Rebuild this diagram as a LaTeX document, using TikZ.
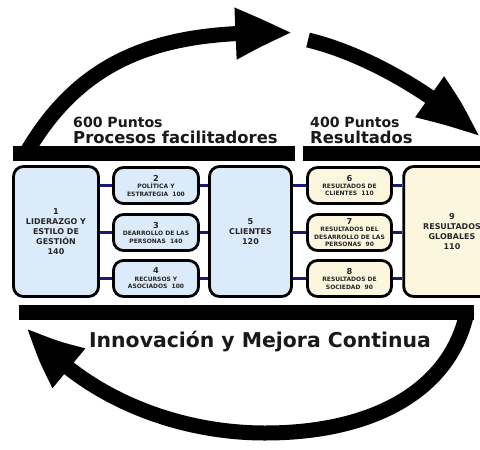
\documentclass[tikz,border=0pt]{standalone}
\usepackage{fontspec}
\setmainfont{DejaVu Sans}
\usetikzlibrary{arrows.meta,bending}
\definecolor{azulclaro}{RGB}{220,235,249}
\definecolor{cremaclaro}{RGB}{252,246,223}
\definecolor{enlaceazul}{RGB}{25,25,120}
\tikzset{
	criterio/.style={draw=black, line width=2.4pt, rounded corners=0.3cm, align=center, inner sep=0pt, text=black!85},
	facil/.style={criterio, fill=azulclaro},
	result/.style={criterio, fill=cremaclaro},
	grande/.style={minimum width=2.55cm, minimum height=3.9cm, font=\bfseries\fontsize{6.8}{8.5}\selectfont},
	chica/.style={minimum height=1.08cm, font=\bfseries\fontsize{5.1}{6.4}\selectfont},
	titulo/.style={inner sep=0pt, anchor=base west, text=black!90},
	enlace/.style={draw=enlaceazul, line width=2.5pt},
	flecha/.style={line width=0.45cm, -{Triangle[length=1.77cm, width=1.4cm, bend]}},
	barra/.style={fill=black},
}
\newcommand{\num}[1]{{\fontsize{7}{7}\selectfont #1}}
\begin{document}
\begin{tikzpicture}[x=0.03cm, y=-0.03cm]
	\useasboundingbox (0,0) rectangle (480,449);
	\fill[barra] (13,146) rectangle (295,161);
	\fill[barra] (303,146) rectangle (482,161);
	\fill[barra] (19,305) rectangle (474,320);
	\coordinate (ini1) at (24,157);
	\coordinate (fin1) at (293,33);
	\coordinate (ini2) at (308,40);
	\coordinate (fin2) at (479,137);
	\coordinate (ini3) at (467,312);
	\coordinate (med3) at (265,433);
	\coordinate (fin3) at (27,327);
	\draw[flecha] (ini1) .. controls (85,48) and (175,30) .. (fin1);
	\draw[flecha] (ini2) .. controls (370,55) and (440,98) .. (fin2);
	\draw[flecha] (ini3) .. controls (451,389) and (375,433) .. (med3) .. controls (175,433) and (82,396) .. (fin3);
	\node[titulo, font=\bfseries\fontsize{12}{13}\selectfont] (p600) at (73,127.5) {600 Puntos};
	\node[titulo, font=\bfseries\fontsize{14}{15}\selectfont] (proc) at (73,143) {Procesos facilitadores};
	\node[titulo, font=\bfseries\fontsize{12}{13}\selectfont] (p400) at (310,127.5) {400 Puntos};
	\node[titulo, font=\bfseries\fontsize{14}{15}\selectfont] (resul) at (310,143) {Resultados};
	\node[titulo, anchor=base, font=\bfseries\fontsize{17.4}{19}\selectfont] (innov) at (260,347.5) {Innovación y Mejora Continua};
	\node[facil, grande] (c1) at (56,231.5) {\num{1}\\LIDERAZGO Y\\ESTILO DE\\GESTIÓN\\140};
	\node[facil, chica, minimum width=2.55cm] (c2) at (156,185.5) {\num{2}\\POLÍTICA Y\\ESTRATEGIA\ \ 100};
	\node[facil, chica, minimum width=2.55cm] (c3) at (156,232.5) {\num{3}\\DEARROLLO DE LAS\\PERSONAS\ \ 140};
	\node[facil, chica, minimum width=2.55cm] (c4) at (156,278.5) {\num{4}\\RECURSOS Y\\ASOCIADOS\ \ 100};
	\node[facil, grande, minimum width=2.46cm] (c5) at (250.5,231.5) {\num{5}\\CLIENTES\\120};
	\node[result, chica, minimum width=2.52cm] (c6) at (349.5,185.5) {\num{6}\\RESULTADOS DE\\CLIENTES\ \ 110};
	\node[result, chica, minimum width=2.52cm] (c7) at (349.5,232.5) {\num{7}\\RESULTADOS DEL\\DESARROLLO DE LAS\\PERSONAS\ \ 90};
	\node[result, chica, minimum width=2.52cm] (c8) at (349.5,278.5) {\num{8}\\RESULTADOS DE\\SOCIEDAD\ \ 90};
	\node[result, grande, minimum width=2.9cm] (c9) at (452,231.5) {\num{9}\\RESULTADOS\\GLOBALES\\110};
	\foreach \b in {c2,c3,c4}{
		\draw[enlace] (c1.east |- \b.west) -- (\b.west);
		\draw[enlace] (\b.east) -- (c5.west |- \b.east);
	}
	\foreach \b in {c6,c7,c8}{
		\draw[enlace] (c5.east |- \b.west) -- (\b.west);
		\draw[enlace] (\b.east) -- (c9.west |- \b.east);
	}
\end{tikzpicture}
\end{document}
